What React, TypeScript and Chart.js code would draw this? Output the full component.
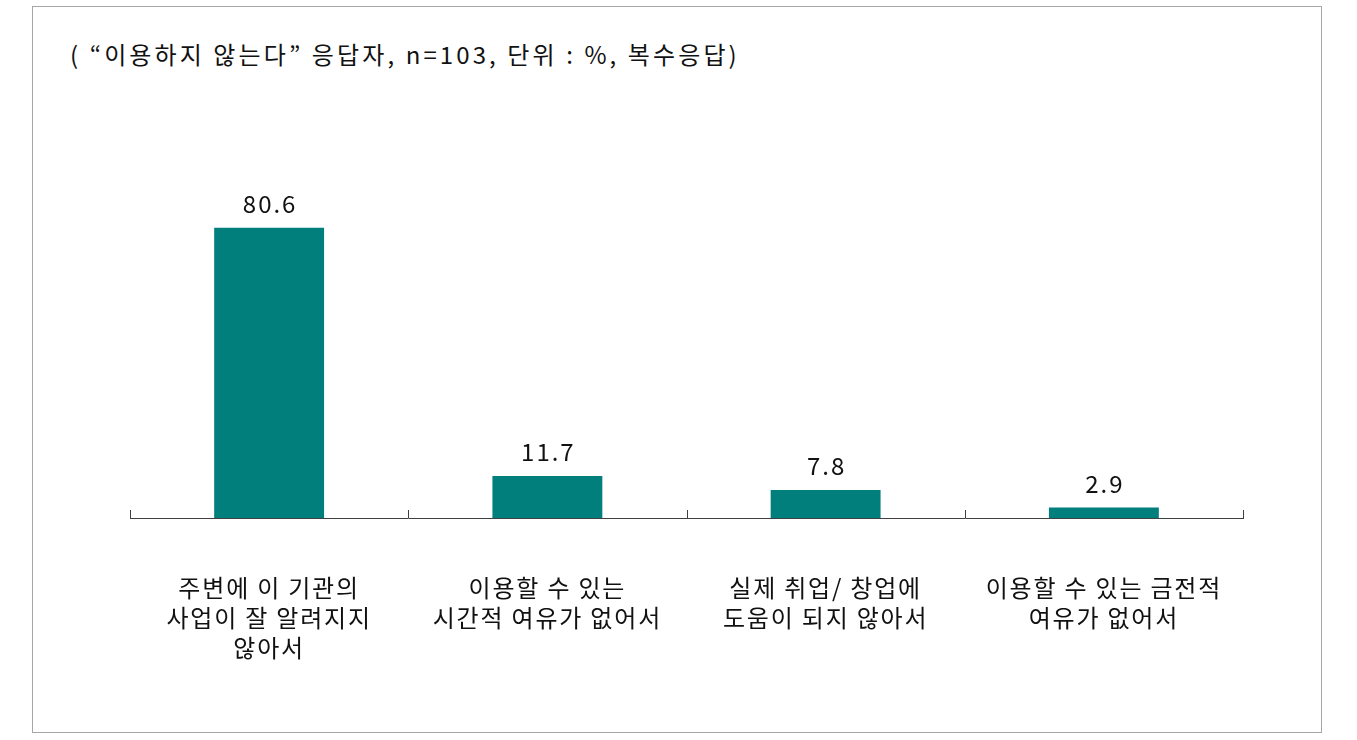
import React, { useEffect, useRef } from "react";
import { Chart, registerables } from "chart.js";

Chart.register(...registerables);

const titleText = "( “이용하지 않는다” 응답자, n=103, 단위 : %, 복수응답)";
const categories: string[][] = [
  ["주변에 이 기관의", "사업이 잘 알려지지", "않아서"],
  ["이용할 수 있는", "시간적 여유가 없어서"],
  ["실제 취업/ 창업에", "도움이 되지 않아서"],
  ["이용할 수 있는 금전적", "여유가 없어서"],
];
const values: number[] = [80.6, 11.7, 7.8, 2.9];

const FONT = "'Noto Sans CJK KR', 'Noto Sans', sans-serif";
const BAR_COLOR = "#007f7c";
const AXIS_COLOR = "#404040";

const letterSpacingPlugin = {
  id: "letterSpacing",
  beforeDraw(chart: any) {
    (chart.ctx as any).letterSpacing = "1.8px";
  },
  afterDraw(chart: any) {
    (chart.ctx as any).letterSpacing = "0px";
  },
};

const valueLabelPlugin = {
  id: "valueLabels",
  afterDatasetsDraw(chart: any) {
    const ctx = chart.ctx;
    const meta = chart.getDatasetMeta(0);
    ctx.save();
    ctx.font = `24px ${FONT}`;
    (ctx as any).letterSpacing = "2px";
    ctx.fillStyle = "#111111";
    ctx.textAlign = "center";
    ctx.textBaseline = "middle";
    meta.data.forEach((el: any, i: number) => {
      ctx.fillText(values[i].toFixed(1), el.x + 1, el.y - 24);
    });
    ctx.restore();
  },
};

const boundaryTickPlugin = {
  id: "boundaryTicks",
  afterDraw(chart: any) {
    const ctx = chart.ctx;
    const xs = chart.scales.x;
    const yBase = chart.chartArea.bottom;
    ctx.save();
    ctx.strokeStyle = AXIS_COLOR;
    ctx.lineWidth = 1;
    for (let i = 0; i <= categories.length; i++) {
      const x = Math.round(xs.getPixelForValue(i - 0.5)) + 0.5;
      ctx.beginPath();
      ctx.moveTo(x, yBase);
      ctx.lineTo(x, yBase - 8);
      ctx.stroke();
    }
    ctx.restore();
  },
};

export default function App() {
  const canvasRef = useRef<HTMLCanvasElement | null>(null);

  useEffect(() => {
    if (!canvasRef.current) return;
    const chart = new Chart(canvasRef.current, {
      type: "bar",
      data: {
        labels: categories,
        datasets: [
          {
            data: values,
            backgroundColor: BAR_COLOR,
            borderWidth: 0,
            categoryPercentage: 1,
            barPercentage: 0.395,
          },
        ],
      },
      options: {
        animation: false,
        responsive: false,
        maintainAspectRatio: false,
        layout: { padding: { left: 97, right: 78, top: 151, bottom: 14 } },
        plugins: {
          legend: { display: false },
          title: { display: false },
          tooltip: { enabled: false },
        },
        scales: {
          x: {
            offset: true,
            grid: { display: false, drawTicks: false },
            border: { display: true, color: AXIS_COLOR, width: 1 },
            ticks: {
              autoSkip: false,
              maxRotation: 0,
              minRotation: 0,
              padding: 55,
              color: "#111111",
              font: { family: FONT, size: 24, lineHeight: 30 / 24 },
            },
          },
          y: {
            display: false,
            min: 0,
            max: 100,
          },
        },
      },
      plugins: [letterSpacingPlugin, valueLabelPlugin, boundaryTickPlugin],
    });
    return () => chart.destroy();
  }, []);

  return (
    <div
      style={{
        position: "absolute",
        left: 32,
        top: 6,
        width: 1290,
        height: 727,
        border: "1px solid #a6a6a6",
        boxSizing: "border-box",
        background: "#ffffff",
      }}
    >
      <div
        style={{
          position: "absolute",
          left: 37,
          top: 32,
          fontFamily: FONT,
          fontSize: 24,
          letterSpacing: "3.1px",
          lineHeight: "30px",
          color: "#111111",
          whiteSpace: "nowrap",
        }}
      >
        {titleText}
      </div>
      <canvas
        ref={canvasRef}
        width={1288}
        height={725}
        style={{ position: "absolute", left: 0, top: 0, width: 1288, height: 725 }}
      />
    </div>
  );
}
